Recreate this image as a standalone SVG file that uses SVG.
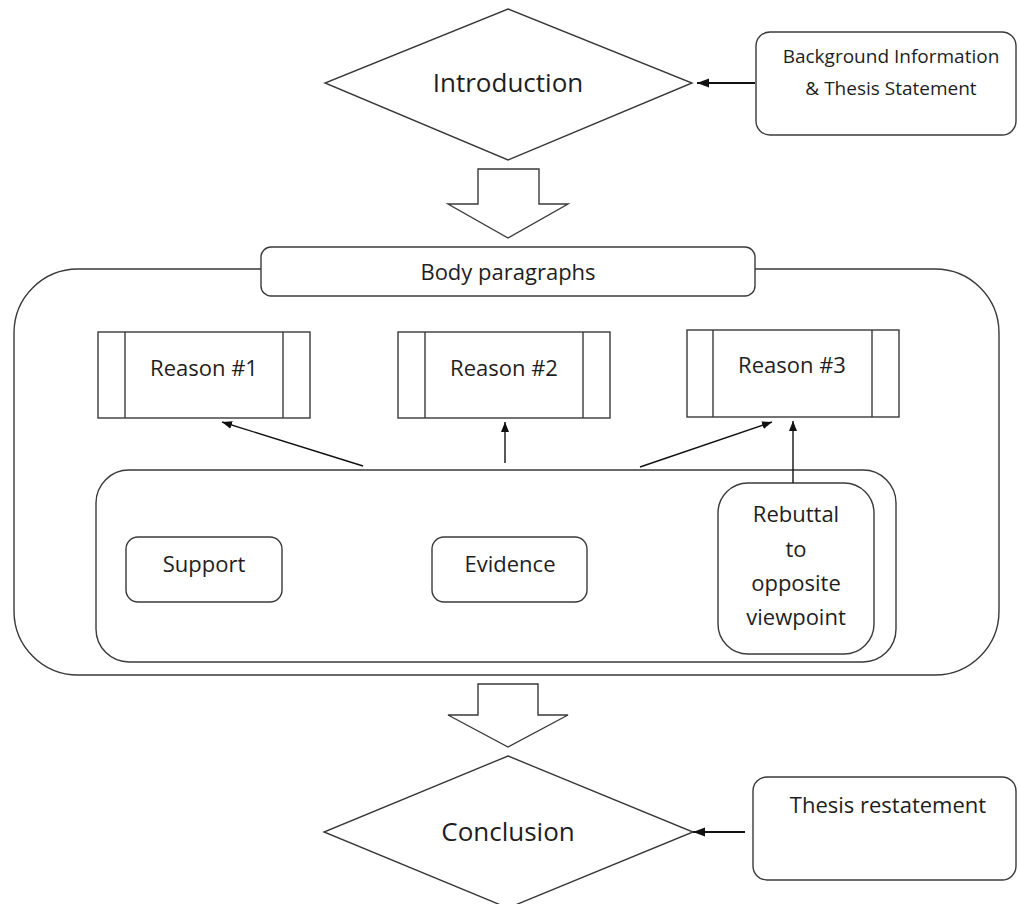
<svg xmlns="http://www.w3.org/2000/svg" width="1020" height="904" viewBox="0 0 1020 904">
<style>
.shape{fill:#fff;stroke:#3a3a3a;stroke-width:1.4}
.conn{fill:none;stroke:#111;stroke-width:1.4}
.thick{fill:none;stroke:#111;stroke-width:2.2}
text{font-family:"Open Sans","Noto Sans",sans-serif;fill:#1e1e1e;text-anchor:middle}
.big{font-size:26px}
.mid{font-size:22px}
.small{font-size:19px}
</style>
<defs>
<marker id="ah" markerUnits="userSpaceOnUse" markerWidth="11" markerHeight="9" refX="10" refY="4" orient="auto">
<path d="M0,0 L10,4 L0,8 z" fill="#111"/>
</marker>
<marker id="ah2" markerUnits="userSpaceOnUse" markerWidth="13" markerHeight="10" refX="12" refY="4.5" orient="auto">
<path d="M0,0 L12,4.5 L0,9 z" fill="#111"/>
</marker>
</defs>
<rect width="1020" height="904" fill="#fff"/>
<g id="introduction">
<polygon class="shape" points="508,9 692,83 508,160 325,83"/>
<text class="big" x="508" y="92">Introduction</text>
</g>
<g id="background">
<rect class="shape" x="756" y="32" width="260" height="103" rx="14"/>
<text class="small" x="891" y="63">Background Information</text>
<text class="small" x="891" y="95">&amp; Thesis Statement</text>
</g>
<g id="arrow-top">
<polygon class="shape" points="478,169 539,169 539,204 568,204 508,238 448,204 478,204"/>
</g>
<g id="body">
<rect class="shape" x="14" y="269" width="985" height="406" rx="64"/>
</g>
<g id="body-title">
<rect class="shape" x="261" y="247" width="494" height="49" rx="10"/>
<text class="mid" x="508" y="280">Body paragraphs</text>
</g>
<g id="reason1">
<rect class="shape" x="98" y="332" width="212" height="86"/>
<line class="shape" x1="125" y1="332" x2="125" y2="418"/>
<line class="shape" x1="283" y1="332" x2="283" y2="418"/>
<text class="mid" x="204" y="376">Reason #1</text>
</g>
<g id="reason2">
<rect class="shape" x="398" y="332" width="212" height="86"/>
<line class="shape" x1="425" y1="332" x2="425" y2="418"/>
<line class="shape" x1="583" y1="332" x2="583" y2="418"/>
<text class="mid" x="504" y="376">Reason #2</text>
</g>
<g id="reason3">
<rect class="shape" x="687" y="330" width="212" height="87"/>
<line class="shape" x1="713" y1="330" x2="713" y2="417"/>
<line class="shape" x1="872" y1="330" x2="872" y2="417"/>
<text class="mid" x="792" y="373">Reason #3</text>
</g>
<g id="details">
<rect class="shape" x="96" y="470" width="800" height="192" rx="33"/>
</g>
<g id="support">
<rect class="shape" x="126" y="537" width="156" height="65" rx="12"/>
<text class="mid" x="204" y="572">Support</text>
</g>
<g id="evidence">
<rect class="shape" x="432" y="537" width="155" height="65" rx="12"/>
<text class="mid" x="510" y="572">Evidence</text>
</g>
<g id="rebuttal">
<rect class="shape" x="718" y="483" width="156" height="171" rx="30"/>
<text class="mid" x="796" y="522">Rebuttal</text>
<text class="mid" x="796" y="557">to</text>
<text class="mid" x="796" y="591">opposite</text>
<text class="mid" x="796" y="625">viewpoint</text>
</g>
<g id="arrow-bottom">
<polygon class="shape" points="478,684 538,684 538,715 568,715 508,747 448,715 478,715"/>
</g>
<g id="conclusion">
<polygon class="shape" points="508,756 693,832 508,908 324,832"/>
<text class="big" x="508" y="841">Conclusion</text>
</g>
<g id="thesis">
<rect class="shape" x="753" y="777" width="263" height="103" rx="14"/>
<text class="mid" x="888" y="813">Thesis restatement</text>
</g>
<g id="connectors">
<line class="thick" x1="755" y1="83" x2="697" y2="83" marker-end="url(#ah2)"/>
<line class="thick" x1="745" y1="832" x2="693" y2="832" marker-end="url(#ah2)"/>
<line class="conn" x1="363" y1="466" x2="222" y2="422" marker-end="url(#ah)"/>
<line class="conn" x1="505" y1="463" x2="505" y2="422" marker-end="url(#ah)"/>
<line class="conn" x1="640" y1="467" x2="772" y2="422" marker-end="url(#ah)"/>
<line class="conn" x1="793" y1="483" x2="793" y2="421" marker-end="url(#ah)"/>
</g>
</svg>
